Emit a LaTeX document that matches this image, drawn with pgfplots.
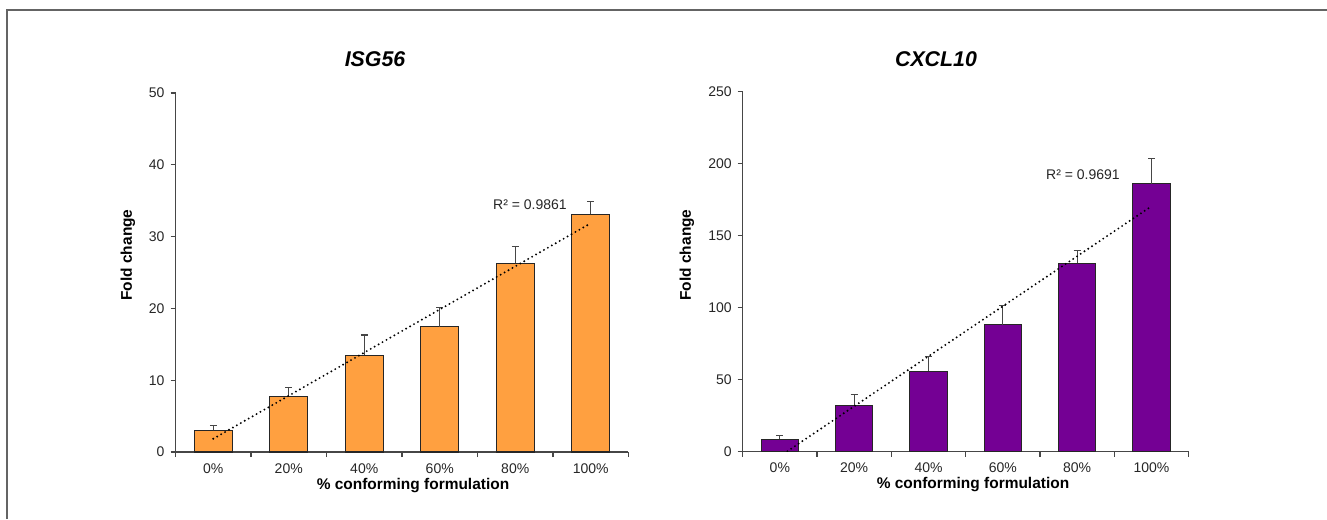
\documentclass[border=0pt]{standalone}
\usepackage{pgfplots}
\pgfplotsset{compat=1.18}
\usepackage{fontspec}
\setmainfont{Liberation Sans}
\definecolor{isgorange}{RGB}{255,160,64}
\definecolor{cxpurple}{RGB}{116,0,148}
\definecolor{axisgray}{RGB}{70,70,70}
\definecolor{framegray}{RGB}{100,100,100}
\pgfplotsset{
  excelbar/.style={
    scale only axis,
    anchor=south west,
    xmin=0.5, xmax=6.5, ymin=0,
    axis x line*=bottom, axis y line*=left,
    axis line style={draw=axisgray, line width=0.9pt},
    tick align=outside,
    major tick length=3.75pt,
    tick style={draw=axisgray, line width=0.9pt},
    xtick={0.5,1.5,...,6.5}, xticklabels={},
    extra x ticks={1,2,3,4,5,6},
    extra x tick labels={0\%,20\%,40\%,60\%,80\%,100\%},
    extra x tick style={major tick length=0pt, tick style={draw=none}, xticklabel style={yshift=-5pt}},
    tick label style={font=\fontsize{10.5pt}{12pt}\selectfont, text=black!85},
    /pgf/number format/assume math mode=true,
    yticklabel style={xshift=-1pt},
    clip=true,
  },
  trend/.style={draw=black, line width=1.6pt, line cap=round, dash pattern=on 0pt off 3.4pt},
}
\begin{document}
\begin{tikzpicture}[x=0.75pt,y=0.75pt]
\path[use as bounding box] (0,0) rectangle (1327,519);
\draw[framegray, line width=1.3pt] (7,0) -- (7,509) -- (1327,509);

% ---------- ISG56 ----------
\begin{axis}[excelbar, at={(131.625pt,50.25pt)}, width=339.75pt, height=269.25pt,
  ymax=50, ytick={0,10,20,30,40,50}]
\addplot[ybar, bar width=0.5, fill=isgorange, draw=black!85, line width=0.8pt,
  error bars/.cd, y dir=plus, y explicit,
  error bar style={draw=axisgray, line width=0.9pt},
  error mark options={rotate=90, mark size=2.6pt, draw=axisgray, line width=0.9pt}]
  coordinates {(1,3.0) +- (0,0.7) (2,7.75) +- (0,1.25) (3,13.5) +- (0,2.8)
               (4,17.45) +- (0,2.7) (5,26.3) +- (0,2.3) (6,33.1) +- (0,1.8)};
\addplot[trend] coordinates {(1,1.84) (6,31.86)};
\end{axis}

% ---------- CXCL10 ----------
\begin{axis}[excelbar, at={(557.0pt,50.475pt)}, width=334.5pt, height=270pt,
  ymax=250, ytick={0,50,100,150,200,250}]
\addplot[ybar, bar width=0.5, fill=cxpurple, draw=black!85, line width=0.8pt,
  error bars/.cd, y dir=plus, y explicit,
  error bar style={draw=axisgray, line width=0.9pt},
  error mark options={rotate=90, mark size=2.6pt, draw=axisgray, line width=0.9pt}]
  coordinates {(1,8.5) +- (0,2.6) (2,32.2) +- (0,7.3) (3,56.0) +- (0,10.0)
               (4,88.2) +- (0,13.2) (5,130.8) +- (0,9.0) (6,186.1) +- (0,17.3)};
\addplot[trend] coordinates {(1,-3.2) (6,170.5)};
\end{axis}

% ---------- texts ----------
\node[font=\fontsize{16pt}{18pt}\selectfont\bfseries\itshape] at (375,460) {ISG56};
\node[font=\fontsize{16pt}{18pt}\selectfont\bfseries\itshape] at (936,460) {CXCL10};
\node[font=\fontsize{11.6pt}{13pt}\selectfont\bfseries, rotate=90] at (128,264) {Fold change};
\node[font=\fontsize{11.6pt}{13pt}\selectfont\bfseries, rotate=90] at (687,264) {Fold change};
\node[font=\fontsize{11.6pt}{13pt}\selectfont\bfseries] at (413,33.5) {\% conforming formulation};
\node[font=\fontsize{11.6pt}{13pt}\selectfont\bfseries] at (973,34) {\% conforming formulation};
\node[font=\fontsize{10.5pt}{12pt}\selectfont, text=black!85] at (530,314) {R² = 0.9861};
\node[font=\fontsize{10.5pt}{12pt}\selectfont, text=black!85] at (1083,344) {R² = 0.9691};
\end{tikzpicture}
\end{document}
